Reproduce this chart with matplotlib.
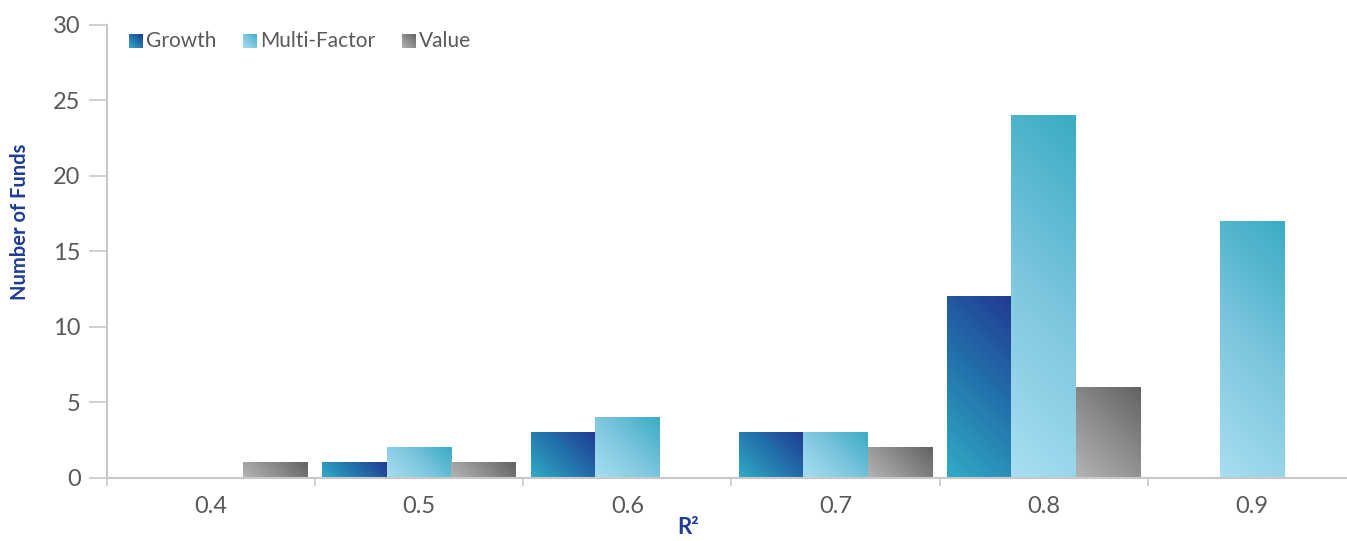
import numpy as np
import matplotlib.pyplot as plt
from matplotlib.colors import LinearSegmentedColormap
from matplotlib.legend_handler import HandlerBase
from matplotlib.image import BboxImage
from matplotlib.transforms import Bbox, TransformedBbox
from matplotlib.patches import Patch

plt.rcParams['font.family'] = ['Lato', 'DejaVu Sans']

# R-squared buckets and fund counts per style
r2_labels = ['0.4', '0.5', '0.6', '0.7', '0.8', '0.9']
growth = [0, 1, 3, 3, 12, 0]
multi_factor = [0, 2, 4, 3, 24, 17]
value = [1, 1, 0, 2, 6, 0]

series = ['Growth', 'Multi-Factor', 'Value']

# gradient per series: light (bottom-left) -> dark (top-right)
cmaps = {
    'Growth': LinearSegmentedColormap.from_list('g', ['#31abc6', '#2374ac', '#213a92']),
    'Multi-Factor': LinearSegmentedColormap.from_list('m', ['#a8def2', '#7cc6de', '#3aacc3']),
    'Value': LinearSegmentedColormap.from_list('v', ['#b4b4b4', '#8c8c8d', '#636365']),
}

axis_grey = '#c8c8c8'
text_grey = '#595959'
navy = '#1f3c94'


def diagonal_ramp(w_px, h_px, n=96):
    # 45 degree ramp in screen space, 0 at bottom-left, 1 at top-right
    u, v = np.meshgrid(np.linspace(0, 1, n), np.linspace(0, 1, n))
    return (u * w_px + v * h_px) / (w_px + h_px)


class GradientHandler(HandlerBase):
    def __init__(self, cmap):
        super().__init__()
        self.cmap = cmap

    def create_artists(self, legend, orig_handle, xdescent, ydescent,
                       width, height, fontsize, trans):
        size = height * 0.95
        box = Bbox.from_bounds(-xdescent + width - size, -ydescent - 0.05 * height, size, size)
        img = BboxImage(TransformedBbox(box, trans), cmap=self.cmap,
                        interpolation='bilinear', origin='lower')
        img.set_data(diagonal_ramp(1, 1))
        return [img]


fig = plt.figure(figsize=(13.47, 5.41), dpi=100)
ax = fig.add_axes([0.0794, 0.1165, 0.9273, 0.8373])

x = np.arange(len(r2_labels))
width = 0.31
offsets = [-width, 0, width]

ax.set_xlim(-0.5, len(r2_labels) - 0.5)
ax.set_ylim(0, 30)

# pixels per data unit, for the screen-space gradient
x_scale = ax.transData.transform((1, 0))[0] - ax.transData.transform((0, 0))[0]
y_scale = ax.transData.transform((0, 1))[1] - ax.transData.transform((0, 0))[1]

for name, vals, off in zip(series, [growth, multi_factor, value], offsets):
    bars = ax.bar(x + off, vals, width, color='none', edgecolor='none')
    for bar in bars:
        h = bar.get_height()
        if h <= 0:
            continue
        x0 = bar.get_x()
        w = bar.get_width()
        ax.imshow(diagonal_ramp(w * x_scale, h * y_scale), cmap=cmaps[name],
                  origin='lower', aspect='auto', interpolation='bilinear',
                  extent=(x0, x0 + w, 0, h), zorder=2)

ax.set_xlim(-0.5, len(r2_labels) - 0.5)
ax.set_ylim(0, 30)
ax.set_yticks(range(0, 31, 5))

# category labels centred, small ticks at the boundaries
ax.set_xticks(x)
ax.set_xticklabels(r2_labels)
ax.set_xticks(np.arange(-0.5, len(r2_labels), 1), minor=True)
ax.tick_params(axis='x', which='major', length=0, pad=13, labelsize=17, labelcolor=text_grey)
ax.tick_params(axis='x', which='minor', length=6, width=1.2, color=axis_grey, direction='out')
ax.tick_params(axis='y', length=13, width=1.2, color=axis_grey, pad=6,
               labelsize=17, labelcolor=text_grey)

for side in ['top', 'right']:
    ax.spines[side].set_visible(False)
for side in ['left', 'bottom']:
    ax.spines[side].set_color(axis_grey)
    ax.spines[side].set_linewidth(1.5)
ax.spines['bottom'].set_zorder(3)

ax.set_ylabel('Number of Funds', fontsize=14.5, fontweight='bold', color=navy)
ax.yaxis.set_label_coords(-0.0617, 0.565)
ax.set_xlabel('R²', fontsize=16, fontweight='bold', color=navy)
ax.xaxis.set_label_coords(0.465, -0.086)

handles = [Patch(label=s) for s in series]
ax.legend(handles=handles, loc='upper left', bbox_to_anchor=(0.001, 1.028),
          ncol=3, frameon=False, fontsize=15, labelcolor=text_grey,
          handlelength=0.75, handletextpad=0.15, columnspacing=1.2,
          handler_map={h: GradientHandler(cmaps[h.get_label()]) for h in handles})

fig.savefig('out.png', dpi=100)
